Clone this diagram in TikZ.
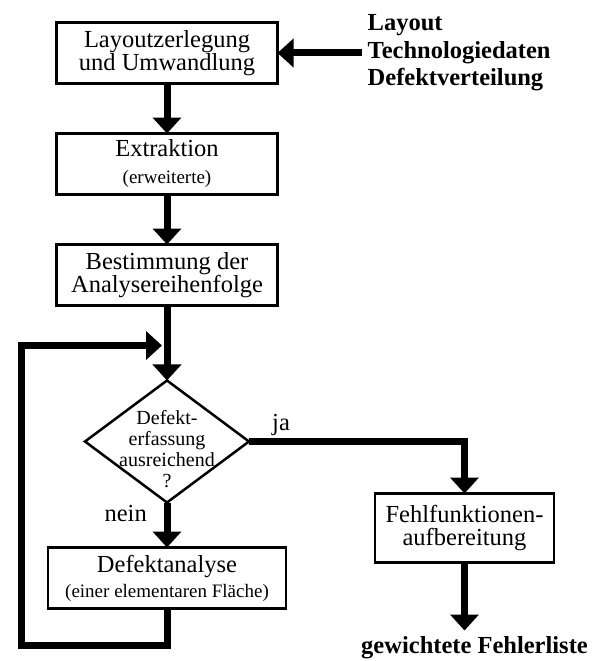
\documentclass[tikz,border=0pt]{standalone}
\usepackage{fontspec}
\setmainfont{Liberation Serif}
\usetikzlibrary{positioning}
\usetikzlibrary{arrows.meta}
\usetikzlibrary{shapes.geometric}

\newcommand{\kleinschrift}{\fontsize{19}{19}\selectfont}

\begin{document}
\begin{tikzpicture}[x=1pt, y=1pt,
    kasten/.style={rectangle, draw=black, line width=2.5pt, outer sep=0pt, minimum width=221pt, minimum height=61pt, align=center, font=\fontsize{24.5}{23}\selectfont},
    raute/.style={diamond, draw=black, line width=2.5pt, outer sep=0pt, minimum width=164pt, minimum height=122pt, inner sep=0pt},
    fluss/.style={-{Triangle[length=16pt, width=28pt]}, line width=7pt},
    beschriftung/.style={inner sep=0pt, font=\fontsize{24.5}{24}\selectfont}
  ]
    \useasboundingbox (0,0) rectangle (597,-661);

    \node (zerlegung) [kasten] at (167,-53) {Layoutzerlegung\\und Umwandlung};
    \node (extraktion) [kasten, below=50pt of zerlegung] {Extraktion\\[4pt]{\kleinschrift (erweiterte)}};
    \node (reihenfolge) [kasten, below=50pt of extraktion] {Bestimmung der\\Analysereihenfolge};

    \node (eingabe) [right=84pt of zerlegung, inner sep=6pt, align=left, font=\bfseries\fontsize{24.5}{27.5}\selectfont] {Layout\\Technologiedaten\\Defektverteilung};

    \node (erfassung) [raute, below=75pt of reihenfolge] {};
    \node (erfassungtext) [align=center, yshift=-8pt, font=\fontsize{20}{21}\selectfont] at (erfassung) {Defekt-\\erfassung\\ausreichend\\?};
    \node (ja) [beschriftung, above right=6pt and 23pt of erfassung.east] {ja};
    \node (nein) [beschriftung, below left=3pt and 20pt of erfassung.south] {nein};

    \node (analyse) [kasten, minimum width=238pt, below=45pt of erfassung] {Defektanalyse\\[2pt]{\kleinschrift (einer elementaren Fläche)}};
    \node (fehlfkt) [kasten, minimum width=179pt, minimum height=69pt, below right=52pt and 126pt of erfassung.east] {Fehlfunktionen-\\aufbereitung};
    \node (liste) [beschriftung, font=\bfseries\fontsize{24.5}{24}\selectfont, below=74pt of fehlfkt, xshift=10pt] {gewichtete Fehlerliste};

    \coordinate (einsprung) at ([yshift=-40pt]reihenfolge.south);

    \draw [fluss] (eingabe) -- (zerlegung);
    \draw [fluss] (zerlegung) -- (extraktion);
    \draw [fluss] (extraktion) -- (reihenfolge);
    \draw [fluss] (reihenfolge) -- (erfassung);
    \draw [fluss] (erfassung.east) -| (fehlfkt.north);
    \draw [fluss] (erfassung) -- (analyse);
    \draw [fluss, shorten >=6pt] (fehlfkt.south) -- (fehlfkt.south |- liste.north);
    \draw [fluss, shorten >=5pt] (analyse.south) -- ++(0,-37) -- ++(-146,0) |- (einsprung);
\end{tikzpicture}
\end{document}
